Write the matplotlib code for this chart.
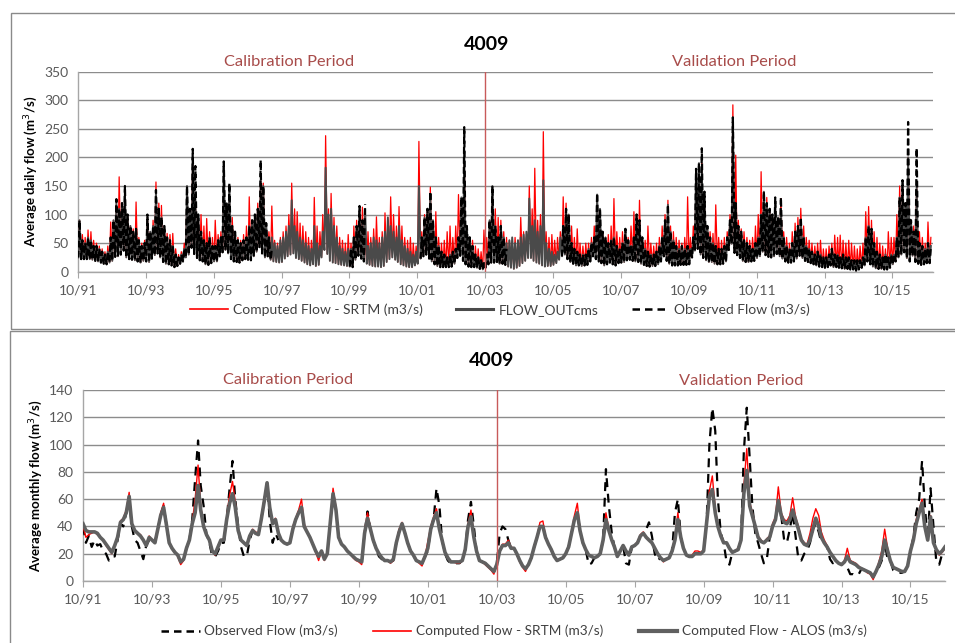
import numpy as np
import pandas as pd
import matplotlib
matplotlib.use("Agg")
import matplotlib.pyplot as plt
import matplotlib.dates as mdates
from matplotlib.patches import Rectangle
from matplotlib.lines import Line2D
from datetime import datetime

plt.rcParams['font.family'] = ['Lato', 'DejaVu Sans']

# ---------------- data: top panel (daily flow, per-month daily max / min) -------------
# months from Oct 1991, one row = one water year (Oct..Sep)
srtm_daily_max = [
    90, 65, 60, 73, 70, 55, 50, 45, 40, 35, 45, 87,
    90, 110, 166, 120, 130, 100, 80, 75, 122, 60, 50, 55,
    95, 70, 90, 157, 120, 116, 80, 67, 65, 67, 40, 30,
    35, 50, 140, 100, 200, 120, 100, 100, 80, 93, 70, 60,
    90, 65, 70, 150, 100, 125, 95, 70, 60, 55, 65, 80,
    131, 90, 100, 120, 160, 155, 80, 70, 115, 55, 50, 60,
    70, 80, 100, 155, 110, 105, 85, 80, 70, 60, 55, 130,
    80, 70, 100, 238, 110, 137, 95, 80, 60, 55, 50, 65,
    50, 80, 90, 105, 113, 60, 70, 60, 75, 96, 60, 70,
    103, 90, 131, 100, 80, 114, 80, 60, 55, 60, 50, 45,
    228, 70, 100, 110, 148, 90, 105, 60, 50, 55, 70, 80,
    60, 80, 135, 120, 200, 70, 60, 55, 45, 40, 35, 73,
    60, 90, 130, 110, 95, 90, 70, 60, 55, 50, 60, 55,
    95, 70, 60, 150, 110, 181, 90, 100, 245, 70, 60, 65,
    55, 60, 70, 131, 120, 100, 80, 60, 75, 50, 45, 50,
    50, 60, 80, 130, 100, 70, 60, 65, 80, 128, 70, 60,
    70, 65, 60, 80, 105, 90, 125, 60, 55, 80, 50, 45,
    50, 60, 80, 100, 125, 80, 70, 60, 55, 50, 60, 131,
    60, 80, 160, 185, 190, 120, 80, 70, 67, 117, 60, 55,
    60, 70, 100, 292, 204, 90, 75, 70, 60, 55, 60, 80,
    100, 175, 135, 130, 110, 100, 90, 90, 128, 70, 60, 50,
    70, 85, 95, 111, 80, 60, 55, 50, 45, 50, 55, 40,
    40, 45, 50, 64, 60, 64, 55, 50, 55, 50, 45, 40,
    45, 50, 105, 114, 90, 70, 60, 50, 45, 40, 70, 60,
    60, 100, 150, 140, 110, 200, 90, 80, 150, 70, 60, 50,
    87, 60]

flowout_daily_max = [
    90, 55, 50, 60, 55, 45, 45, 40, 35, 30, 35, 60,
    90, 120, 110, 120, 140, 100, 80, 70, 75, 55, 45, 50,
    95, 70, 80, 140, 110, 95, 80, 60, 55, 45, 30, 25,
    30, 40, 150, 110, 200, 130, 100, 70, 55, 50, 60, 45,
    45, 55, 60, 190, 120, 150, 80, 70, 55, 50, 55, 60,
    80, 90, 100, 110, 160, 150, 85, 60, 60, 50, 45, 55,
    60, 70, 80, 125, 80, 70, 60, 55, 50, 45, 40, 80,
    50, 45, 70, 182, 100, 110, 80, 60, 45, 40, 35, 40,
    40, 60, 80, 110, 85, 110, 45, 50, 60, 55, 50, 60,
    70, 95, 80, 70, 60, 80, 55, 45, 40, 35, 30, 35,
    150, 60, 95, 110, 135, 90, 60, 45, 35, 30, 25, 30,
    35, 40, 60, 130, 210, 80, 60, 45, 30, 25, 20, 15,
    30, 90, 150, 80, 60, 80, 60, 50, 55, 60, 50, 55,
    60, 65, 70, 128, 80, 90, 70, 80, 160, 50, 40, 35,
    30, 35, 60, 80, 110, 100, 50, 40, 35, 30, 30, 30,
    40, 50, 60, 135, 110, 70, 60, 50, 55, 60, 45, 40,
    50, 75, 55, 45, 60, 100, 90, 60, 40, 35, 30, 30,
    35, 45, 60, 90, 117, 70, 55, 45, 40, 45, 40, 45,
    40, 60, 180, 190, 180, 140, 80, 60, 50, 45, 40, 40,
    45, 60, 90, 270, 120, 80, 70, 55, 50, 45, 40, 50,
    60, 100, 140, 120, 110, 100, 120, 95, 110, 60, 45, 40,
    50, 70, 80, 90, 60, 45, 40, 35, 30, 35, 30, 25,
    25, 30, 40, 30, 30, 25, 30, 25, 25, 20, 20, 20,
    20, 25, 60, 80, 75, 50, 35, 30, 25, 30, 25, 30,
    30, 60, 130, 160, 120, 200, 90, 70, 150, 50, 45, 40,
    50, 45]

obs_daily_max = [
    90, 55, 50, 60, 55, 45, 45, 40, 35, 30, 35, 60,
    90, 127, 110, 120, 150, 100, 80, 70, 75, 55, 45, 50,
    100, 70, 80, 143, 110, 95, 80, 60, 55, 45, 30, 25,
    30, 40, 150, 110, 215, 185, 100, 70, 55, 50, 60, 45,
    45, 55, 60, 193, 120, 155, 80, 70, 55, 50, 55, 60,
    80, 90, 100, 110, 195, 150, 85, 60, 40, None, None, None,
    None, None, None, None, None, None, None, None, None, None, None, None,
    None, None, None, None, None, None, None, None, None, None, None, None,
    40, 60, 80, 115, 90, 118, None, None, None, None, None, None,
    None, None, None, None, None, None, None, None, None, None, None, None,
    None, 60, 95, 110, 140, 90, 60, 45, 35, 30, 25, 30,
    35, 40, 60, 130, 253, 80, 60, 45, 30, 25, 20, 15,
    30, 90, 150, 80, 60, 80, 60, 40, None, None, None, None,
    None, None, None, None, None, None, None, None, None, None, None, None,
    None, None, None, 80, 110, 100, 50, 40, 35, 30, 30, 30,
    40, 50, 60, 137, 110, 70, 60, 50, 55, 60, 45, 40,
    50, 75, 55, 45, 60, 100, 90, 60, 40, 35, 30, 30,
    35, 45, 60, 90, 117, 70, 55, 45, 40, 45, 40, 45,
    40, 60, 180, 190, 216, 140, 80, 60, 50, 45, 40, 40,
    45, 60, 90, 270, 120, 80, 70, 55, 50, 45, 40, 50,
    60, 100, 140, 120, 110, 100, 130, 95, 130, 60, 45, 40,
    50, 70, 80, 95, 60, 45, 40, 35, 30, 35, 30, 25,
    25, 30, 40, 30, 30, 25, 30, 25, 25, 20, 20, 20,
    20, 25, 60, 80, 75, 50, 35, 30, 25, 30, 25, 30,
    30, 60, 130, 160, 120, 262, 90, 70, 216, 50, 45, 40,
    50, 45]

daily_min = [
    25, 22, 22, 22, 22, 21, 19, 18, 16, 14, 13, 16,
    19, 26, 27, 30, 37, 25, 22, 21, 20, 18, 16, 19,
    18, 17, 23, 29, 32, 25, 17, 14, 13, 11, 8, 10,
    14, 18, 25, 30, 42, 31, 24, 20, 18, 13, 12, 15,
    18, 18, 27, 34, 38, 32, 22, 18, 17, 16, 20, 22,
    21, 20, 27, 35, 43, 32, 25, 27, 21, 18, 17, 16,
    17, 23, 27, 30, 32, 24, 22, 19, 16, 13, 11, 13,
    10, 12, 25, 38, 31, 19, 16, 15, 13, 12, 11, 10,
    9, 8, 21, 28, 23, 18, 14, 12, 10, 9, 9, 8,
    10, 17, 22, 25, 21, 17, 13, 11, 9, 8, 8, 11,
    14, 23, 27, 30, 23, 18, 13, 10, 8, 8, 8, 8,
    9, 14, 24, 28, 19, 13, 9, 8, 8, 7, 5, 4,
    7, 13, 16, 16, 17, 14, 14, 12, 9, 7, 5, 7,
    10, 15, 19, 24, 24, 19, 16, 14, 11, 9, 10, 10,
    12, 15, 21, 27, 30, 22, 17, 14, 11, 11, 10, 11,
    12, 18, 27, 22, 18, 15, 11, 13, 16, 13, 11, 15,
    16, 17, 20, 21, 19, 18, 17, 14, 12, 10, 9, 10,
    10, 13, 18, 27, 19, 14, 11, 11, 11, 12, 12, 12,
    13, 25, 37, 40, 30, 24, 20, 17, 17, 14, 13, 13,
    14, 18, 38, 49, 33, 29, 24, 19, 17, 17, 18, 19,
    24, 27, 35, 29, 26, 25, 27, 31, 27, 23, 18, 16,
    16, 18, 23, 28, 24, 19, 17, 15, 13, 11, 9, 8,
    7, 8, 11, 8, 8, 7, 6, 5, 5, 4, 4, 2,
    4, 7, 11, 18, 13, 9, 6, 5, 5, 4, 4, 7,
    13, 18, 25, 30, 34, 24, 18, 28, 17, 14, 12, 13,
    15, 15]

# ---------------- data: bottom panel (monthly averages) -------------
obs_monthly = [
    40, 28, 33, 25, 30, 26, 27, 22, 20, 15, 18, 18,
    30, 42, 40, 50, 60, 40, 30, 28, 22, 16, 26, 30,
    30, 28, 38, 48, 55, 42, 28, 24, 21, 19, 14, 16,
    24, 30, 45, 75, 103, 70, 55, 34, 28, 18, 18, 22,
    28, 28, 45, 68, 88, 60, 40, 25, 18, 18, 30, 37,
    35, 34, 45, 58, 72, 45, 28, 35, 30, None, None, None,
    None, None, None, None, None, None, None, None, None, None, None, None,
    None, None, None, None, None, None, None, None, None, None, None, None,
    None, 14, 35, 51, 38, 30, 24, 18, 16, 15, 15, 14,
    15, 28, 36, 42, 35, 28, 22, 19, 15, 14, 13, 18,
    22, 38, 45, 68, 55, 30, 20, 15, 13, 13, 13, 13,
    15, 23, 45, 58, 40, 22, 15, 14, 13, 11, 9, 7,
    12, 35, 40, 38, 30, 24, 24, 20, 15, 11, 9, 12,
    17, 25, 32, 40, 40, 32, 27, 23, 18, 15, 16, 17,
    20, 25, 35, 45, 50, 37, 28, 23, 12, 13, 17, 18,
    20, 30, 82, 55, 35, 25, 18, 22, 26, 13, 12, 25,
    26, 28, 33, 35, 38, 43, 33, 20, 15, 17, 15, 16,
    17, 22, 50, 60, 32, 24, 19, 18, 18, 20, 20, 20,
    22, 42, 100, 127, 110, 60, 35, 28, 14, 12, 21, 22,
    23, 30, 95, 127, 90, 55, 35, 28, 20, 13, 16, 32,
    40, 45, 55, 48, 30, 28, 38, 50, 33, 16, 15, 20,
    22, 28, 38, 42, 36, 28, 28, 25, 16, 13, 15, 13,
    12, 14, 10, 5, 5, 4, 5, 9, 8, 7, 6, 3,
    7, 10, 15, 28, 16, 15, 8, 7, 6, 6, 7, 11,
    22, 32, 50, 60, 88, 55, 30, 68, 40, 14, 12, 20,
    22]

srtm_monthly = [
    40, 32, 34, 35, 36, 34, 32, 30, 26, 23, 20, 26,
    32, 44, 46, 52, 65, 43, 37, 35, 34, 30, 26, 33,
    30, 29, 38, 50, 57, 42, 28, 24, 21, 18, 12, 15,
    24, 30, 43, 60, 85, 55, 40, 34, 30, 22, 19, 26,
    30, 31, 47, 63, 73, 58, 38, 30, 28, 26, 33, 38,
    36, 35, 47, 60, 72, 55, 43, 46, 35, 30, 28, 27,
    28, 40, 46, 52, 60, 42, 36, 32, 27, 21, 15, 22,
    15, 20, 44, 68, 54, 32, 27, 25, 22, 20, 17, 15,
    14, 12, 37, 50, 39, 30, 24, 20, 17, 15, 15, 13,
    15, 29, 38, 43, 35, 28, 22, 19, 15, 13, 11, 18,
    29, 40, 47, 53, 40, 30, 21, 17, 14, 14, 13, 13,
    15, 25, 42, 52, 33, 22, 15, 14, 12, 10, 8, 5,
    12, 23, 27, 27, 30, 25, 24, 19, 14, 10, 7, 12,
    17, 26, 33, 43, 44, 33, 27, 23, 18, 15, 16, 17,
    20, 26, 36, 48, 57, 38, 28, 23, 19, 18, 17, 18,
    20, 31, 50, 38, 30, 25, 18, 22, 26, 22, 19, 25,
    26, 29, 34, 36, 32, 30, 28, 24, 20, 17, 14, 16,
    17, 23, 32, 50, 33, 24, 19, 18, 19, 22, 22, 21,
    23, 44, 66, 77, 53, 41, 34, 29, 28, 24, 21, 22,
    24, 31, 70, 97, 58, 50, 41, 33, 30, 28, 31, 33,
    42, 47, 69, 50, 45, 44, 48, 61, 47, 40, 31, 28,
    27, 35, 46, 53, 48, 36, 30, 26, 21, 18, 15, 13,
    12, 15, 24, 15, 14, 13, 11, 9, 8, 6, 5, 1,
    7, 14, 22, 38, 24, 15, 10, 9, 8, 7, 7, 11,
    23, 32, 45, 52, 60, 42, 30, 48, 28, 22, 19, 21,
    24]

alos_monthly = [
    42, 37, 36, 36, 36, 35, 32, 30, 27, 24, 21, 26,
    32, 43, 45, 50, 62, 42, 37, 35, 33, 30, 26, 32,
    30, 28, 38, 48, 54, 42, 28, 24, 21, 19, 14, 16,
    24, 30, 42, 50, 70, 52, 40, 34, 30, 22, 20, 25,
    30, 30, 45, 57, 64, 54, 37, 30, 28, 26, 33, 37,
    35, 34, 45, 58, 72, 54, 42, 45, 35, 30, 28, 27,
    28, 38, 45, 50, 54, 40, 36, 32, 27, 22, 18, 22,
    16, 20, 42, 64, 52, 32, 27, 25, 22, 20, 18, 16,
    15, 14, 35, 46, 38, 30, 24, 20, 17, 15, 15, 14,
    16, 28, 36, 42, 35, 28, 22, 19, 15, 14, 13, 18,
    24, 38, 45, 50, 38, 30, 21, 17, 14, 14, 14, 14,
    15, 23, 40, 47, 32, 22, 15, 14, 13, 11, 9, 7,
    12, 22, 26, 26, 28, 24, 24, 20, 15, 11, 9, 12,
    17, 25, 32, 40, 40, 32, 27, 23, 18, 15, 16, 17,
    20, 25, 35, 45, 50, 37, 28, 23, 19, 18, 17, 18,
    20, 30, 45, 37, 30, 25, 18, 22, 26, 22, 19, 25,
    26, 28, 33, 35, 32, 30, 28, 24, 20, 17, 15, 16,
    17, 22, 30, 45, 32, 24, 19, 18, 18, 20, 20, 20,
    22, 42, 62, 67, 50, 40, 33, 28, 28, 24, 21, 22,
    23, 30, 64, 81, 55, 48, 40, 32, 29, 28, 30, 32,
    40, 45, 59, 48, 43, 42, 45, 52, 45, 38, 30, 27,
    26, 30, 38, 46, 40, 32, 28, 25, 21, 18, 15, 13,
    12, 14, 18, 14, 13, 12, 10, 9, 8, 7, 6, 3,
    7, 12, 18, 30, 22, 15, 10, 9, 8, 7, 7, 11,
    22, 30, 42, 50, 57, 40, 30, 47, 28, 23, 20, 22,
    25]

tick_years = list(range(1991, 2016, 2))
split_date = datetime(2003, 10, 1)
title_text = "4009"
top_legend = ["Computed Flow - SRTM (m3/s)", "FLOW_OUTcms", "Observed Flow (m3/s)"]
bottom_legend = ["Observed Flow (m3/s)", "Computed Flow - SRTM (m3/s)", "Computed Flow - ALOS (m3/s)"]

# ---------------- figure -------------
W, H = 955, 643
fig = plt.figure(figsize=(W / 100, H / 100), dpi=100)


def fx(px):
    return px / W


def fy(py):
    return 1 - py / H


# panel frames
fig.add_artist(Rectangle((fx(10.5), fy(329)), 1.0, fy(12.5) - fy(329),
                         transform=fig.transFigure, fill=False, ec='#8A8A8A', lw=1.0))
fig.add_artist(Rectangle((fx(9.5), fy(660)), 1.0, fy(331) - fy(660),
                         transform=fig.transFigure, fill=False, ec='#8A8A8A', lw=1.0))

ax1 = fig.add_axes([fx(78), fy(271.7), fx(933) - fx(78), fy(71.7) - fy(271.7)])
ax2 = fig.add_axes([fx(83), fy(581), fx(945) - fx(83), fy(390) - fy(581)])

top_months = pd.date_range('1991-10-01', periods=len(daily_min), freq='MS')
base_top = mdates.date2num(top_months.to_pydatetime())


def zigzag(hi, lo):
    hi = np.array([np.nan if v is None else v for v in hi], dtype=float)
    lo = np.array(lo, dtype=float)
    lo = np.where(np.isnan(hi), np.nan, lo)
    x = np.column_stack([base_top + 3, base_top + 16]).ravel()
    y = np.column_stack([lo, hi]).ravel()
    return x, y


ax1.plot(*zigzag(srtm_daily_max, daily_min), color='#FF0000', lw=0.9, zorder=3)
ax1.plot(*zigzag(flowout_daily_max, daily_min), color='#4A4A4A', lw=1.4, zorder=4)
ax1.plot(*zigzag(obs_daily_max, daily_min), color='black', lw=1.6, dashes=(3, 1.5), zorder=5)

bottom_months = pd.date_range('1991-10-01', periods=len(alos_monthly), freq='MS')
x2 = mdates.date2num(bottom_months.to_pydatetime())
obs_m = np.array([np.nan if v is None else v for v in obs_monthly], dtype=float)
ax2.plot(x2, obs_m, color='black', lw=1.6, dashes=(4, 3), zorder=3)
ax2.plot(x2, srtm_monthly, color='#FF0000', lw=1.0, zorder=4)
ax2.plot(x2, alos_monthly, color='#606060', lw=2.6, zorder=5)

tick_dates = [mdates.date2num(datetime(y, 10, 1)) for y in tick_years]
for ax, ymax, ystep in ((ax1, 350, 50), (ax2, 140, 20)):
    ax.set_ylim(0, ymax)
    ax.set_yticks(np.arange(0, ymax + 1, ystep))
    ax.set_xticks(tick_dates)
    ax.xaxis.set_major_formatter(mdates.DateFormatter('%m/%y'))
    ax.yaxis.grid(True, color='#8C8C8C', lw=1.0)
    ax.set_axisbelow(True)
    for s in ('top', 'right'):
        ax.spines[s].set_visible(False)
    for s in ('left', 'bottom'):
        ax.spines[s].set_color('#A6A6A6')
        ax.spines[s].set_linewidth(1.0)
    ax.tick_params(axis='y', length=0, pad=7, labelsize=10, labelcolor='#595959')
    ax.tick_params(axis='x', length=4, color='#A6A6A6', pad=5, labelsize=10, labelcolor='#595959')
    ax.axvline(mdates.date2num(split_date), color='#C85A5A', lw=1.0, zorder=6)

ax1.set_xlim(base_top[0], mdates.date2num(datetime(2016, 12, 10)))
ax2.set_xlim(x2[0], x2[-1])

ax1.set_ylabel('Average daily flow (m$^3$/s)', fontsize=9.5, fontweight='bold', labelpad=3)
ax2.set_ylabel('Average monthly flow (m$^3$/s)', fontsize=9.5, fontweight='bold', labelpad=3)

period_color = '#A84C4A'
fig.text(fx(487), fy(44), title_text, ha='center', va='center', fontsize=14, fontweight='bold')
fig.text(fx(492), fy(360), title_text, ha='center', va='center', fontsize=14, fontweight='bold')
fig.text(fx(289), fy(62), 'Calibration Period', ha='center', va='center', fontsize=11.8, color=period_color)
fig.text(fx(734), fy(62), 'Validation Period', ha='center', va='center', fontsize=11.8, color=period_color)
fig.text(fx(288), fy(380), 'Calibration Period', ha='center', va='center', fontsize=11.8, color=period_color)
fig.text(fx(741), fy(381), 'Validation Period', ha='center', va='center', fontsize=11.8, color=period_color)

h_top = [Line2D([], [], color='#FF0000', lw=1.2),
         Line2D([], [], color='#4A4A4A', lw=2.2),
         Line2D([], [], color='black', lw=1.8, dashes=(3, 2))]
fig.legend(h_top, top_legend, loc='center', bbox_to_anchor=(fx(500), fy(310)), ncol=3,
           frameon=False, fontsize=10, handlelength=2.7, columnspacing=2.4, handletextpad=0.35,
           labelcolor='#404040')

h_bot = [Line2D([], [], color='black', lw=1.8, dashes=(3, 2)),
         Line2D([], [], color='#FF0000', lw=1.2),
         Line2D([], [], color='#606060', lw=3.0)]
fig.legend(h_bot, bottom_legend, loc='center', bbox_to_anchor=(fx(514), fy(631)), ncol=3,
           frameon=False, fontsize=9.8, handlelength=2.8, columnspacing=2.6, handletextpad=0.35,
           labelcolor='#404040')

fig.savefig('out.png', dpi=100)
